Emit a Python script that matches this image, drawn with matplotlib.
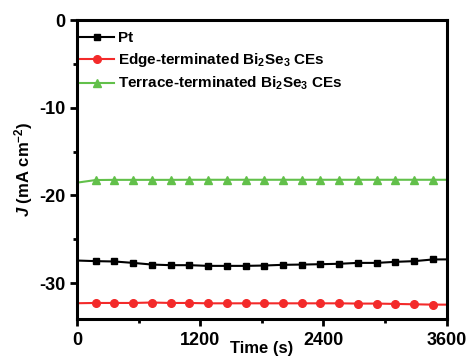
import matplotlib
matplotlib.use("Agg")
import matplotlib.pyplot as plt
from matplotlib.ticker import MultipleLocator

plt.rcParams['font.family'] = ['Liberation Sans', 'DejaVu Sans']
plt.rcParams['axes.unicode_minus'] = False
plt.rcParams['mathtext.fontset'] = 'custom'
plt.rcParams['mathtext.rm'] = 'Liberation Sans:bold'
plt.rcParams['mathtext.it'] = 'Liberation Sans:bold:italic'
plt.rcParams['mathtext.bf'] = 'Liberation Sans:bold'

# time points (s): start, marker positions, end
time = [0, 182, 365, 547, 730, 912, 1095, 1277, 1460, 1642, 1825, 2007, 2190,
        2372, 2555, 2737, 2920, 3102, 3285, 3467, 3600]
pt = [-27.43, -27.50, -27.54, -27.70, -27.89, -27.96, -27.96, -28.04, -28.04, -28.04,
      -28.00, -27.92, -27.89, -27.85, -27.80, -27.70, -27.70, -27.58, -27.50, -27.31, -27.30]
edge = [-32.30, -32.27, -32.27, -32.27, -32.22, -32.27, -32.27, -32.31, -32.31, -32.31,
        -32.31, -32.31, -32.31, -32.31, -32.31, -32.34, -32.34, -32.38, -32.42, -32.46, -32.46]
terrace = [-18.55, -18.25, -18.23, -18.23, -18.23, -18.23, -18.22, -18.22, -18.22, -18.22,
           -18.22, -18.22, -18.22, -18.22, -18.22, -18.22, -18.22, -18.22, -18.22, -18.22, -18.22]

labels = ['Pt', 'Edge-terminated Bi$_2$Se$_3$ CEs', 'Terrace-terminated Bi$_2$Se$_3$ CEs']

fig = plt.figure(figsize=(4.70, 3.56), dpi=100)
ax = fig.add_axes([0.1638, 0.1039, 0.7862, 0.8399])

mk = list(range(1, len(time) - 1))
ax.plot(time, pt, color='black', marker='s', markersize=4.5, lw=1.5, markevery=mk, label=labels[0])
ax.plot(time, edge, color='#f32a2a', marker='o', markersize=5.5, lw=1.5, markevery=mk, label=labels[1])
ax.plot(time, terrace, color='#62c04a', marker='^', markersize=5.5, lw=1.5, markevery=mk, label=labels[2])

ax.set_xlim(0, 3600)
ax.set_ylim(-34.1, 0)
ax.xaxis.set_major_locator(MultipleLocator(1200))
ax.xaxis.set_minor_locator(MultipleLocator(600))
ax.yaxis.set_major_locator(MultipleLocator(10))
ax.yaxis.set_minor_locator(MultipleLocator(5))
ax.tick_params(which='major', direction='out', length=5, width=2, labelsize=13)
ax.tick_params(axis='x', which='major', pad=4)
ax.tick_params(axis='y', which='major', pad=3)
ax.tick_params(which='minor', direction='out', length=3, width=2)
for lab in ax.get_xticklabels() + ax.get_yticklabels():
    lab.set_fontweight('bold')
for s in ax.spines.values():
    s.set_linewidth(2.2)

ax.set_xlabel('Time (s)', fontsize=12, fontweight='bold', labelpad=-5.5)
ax.set_ylabel('$J$ (mA cm$^{-2}$)', fontsize=12, fontweight='bold', labelpad=3)

leg = ax.legend(loc='upper left', bbox_to_anchor=(0.008, 0.962), frameon=False,
                prop={'weight': 'bold', 'size': 11},
                handlelength=2.2, handletextpad=0.3, labelspacing=0.38,
                borderaxespad=0, borderpad=0)

fig.savefig('out.png', dpi=100)
